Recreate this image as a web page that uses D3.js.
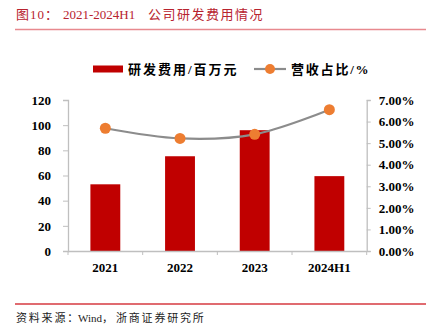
<!DOCTYPE html>
<html><head><meta charset="utf-8">
<script src="https://cdn.jsdelivr.net/npm/d3@7/dist/d3.min.js"></script>
<style>body{margin:0;background:#fff}svg{display:block}</style>
</head><body>
<svg id="c" width="435" height="334"></svg>
<script>
const categories = ["2021", "2022", "2023", "2024H1"];
const rdExpense = [53, 75.3, 96, 59.5];          // 研发费用/百万元
const revenueShare = [5.69, 5.22, 5.41, 6.55];   // 营收占比/%
const leftTicks = [0, 20, 40, 60, 80, 100, 120];
const rightTicks = [0, 1, 2, 3, 4, 5, 6, 7];

const svg = d3.select("#c");
const serif = "'Liberation Serif','Times New Roman',serif";
const cjk = "'Liberation Serif','Noto Sans CJK SC',serif";
const L = 68, R = 366.7, T = 100, B = 251;

// title
const title = svg.append("text").attr("x", 16).attr("y", 19)
  .attr("font-family", cjk).attr("font-size", 13).attr("fill", "#b8232f");
title.append("tspan").attr("letter-spacing", 1).text("图10：");
title.append("tspan").attr("x", 63).text("2021-2024H1");
title.append("tspan").attr("x", 148).attr("letter-spacing", 1.5).text("公司研发费用情况");
svg.append("line").attr("x1", 15).attr("x2", 426).attr("y1", 29.5).attr("y2", 29.5)
  .attr("stroke", "#e8898e").attr("stroke-width", 1.5);

const x = d3.scaleBand().domain(categories).range([L, R]).paddingInner(0).paddingOuter(0);
const y = d3.scaleLinear().domain([0, 120]).range([B, T]);
const y2 = d3.scaleLinear().domain([0, 7]).range([B, T]);

// bars
const bw = x.bandwidth() * 0.4;
svg.selectAll("rect.bar").data(categories).enter().append("rect")
  .attr("x", d => x(d) + x.bandwidth()/2 - bw/2)
  .attr("y", (d,i) => y(rdExpense[i]))
  .attr("width", bw)
  .attr("height", (d,i) => B - y(rdExpense[i]))
  .attr("fill", "#c00000");

// axes
const axisColor = "#bfbfbf";
const gl = svg.append("g").attr("transform", `translate(${L},0)`)
  .call(d3.axisLeft(y).tickValues(leftTicks).tickSize(5).tickPadding(12));
const gr = svg.append("g").attr("transform", `translate(${R},0)`)
  .call(d3.axisRight(y2).tickValues(rightTicks).tickSize(4).tickPadding(8).tickFormat(d => d.toFixed(2) + "%"));
const gx = svg.append("g").attr("transform", `translate(0,${B})`)
  .call(d3.axisBottom(x).tickSize(0).tickPadding(12));
[gl, gr, gx].forEach(g => {
  g.select(".domain").attr("stroke", axisColor).attr("stroke-width", 1.3);
  g.selectAll(".tick line").attr("stroke", axisColor).attr("stroke-width", 1);
  g.selectAll("text").attr("font-family", serif).attr("font-weight", "bold")
    .attr("font-size", 13).attr("fill", "#000");
});
gx.select(".domain").attr("d", `M${L},0.5H${R}`);
// x boundary ticks
const bounds = categories.map(c => x(c)).concat([R]);
svg.append("g").selectAll("line").data(bounds).enter().append("line")
  .attr("x1", d => d).attr("x2", d => d).attr("y1", B).attr("y2", B + 4)
  .attr("stroke", axisColor);

// line
const pts = categories.map((c,i) => [x(c) + x.bandwidth()/2, y2(revenueShare[i])]);
svg.append("path").attr("d", d3.line().curve(d3.curveCatmullRom.alpha(0.5))(pts))
  .attr("fill", "none").attr("stroke", "#8c8c8c").attr("stroke-width", 2.2);
svg.selectAll("circle.pt").data(pts).enter().append("circle")
  .attr("cx", d => d[0]).attr("cy", d => d[1]).attr("r", 5.5).attr("fill", "#ed7d31");

// legend
svg.append("rect").attr("x", 93).attr("y", 65.5).attr("width", 30).attr("height", 7).attr("fill", "#c00000");
svg.append("text").attr("x", 128).attr("y", 74).attr("font-family", cjk).attr("font-weight", "bold")
  .attr("font-size", 13).attr("letter-spacing", 2).attr("fill", "#000").text("研发费用/百万元");
svg.append("line").attr("x1", 254).attr("x2", 286).attr("y1", 69).attr("y2", 69)
  .attr("stroke", "#8c8c8c").attr("stroke-width", 2.2);
svg.append("circle").attr("cx", 270).attr("cy", 69).attr("r", 5).attr("fill", "#ed7d31");
svg.append("text").attr("x", 291).attr("y", 74).attr("font-family", cjk).attr("font-weight", "bold")
  .attr("font-size", 13).attr("letter-spacing", 1.8).attr("fill", "#000").text("营收占比/%");

// source
svg.append("line").attr("x1", 15).attr("x2", 426).attr("y1", 304).attr("y2", 304)
  .attr("stroke", "#d63a40").attr("stroke-width", 1.5);
const src = svg.append("text").attr("x", 16).attr("y", 322).attr("font-family", cjk)
  .attr("font-size", 11).attr("fill", "#222");
src.append("tspan").attr("letter-spacing", 1.8).text("资料来源：");
src.append("tspan").attr("x", 78).text("Wind，");
src.append("tspan").attr("x", 116).attr("letter-spacing", 1.8).text("浙商证券研究所");
</script>
</body></html>
